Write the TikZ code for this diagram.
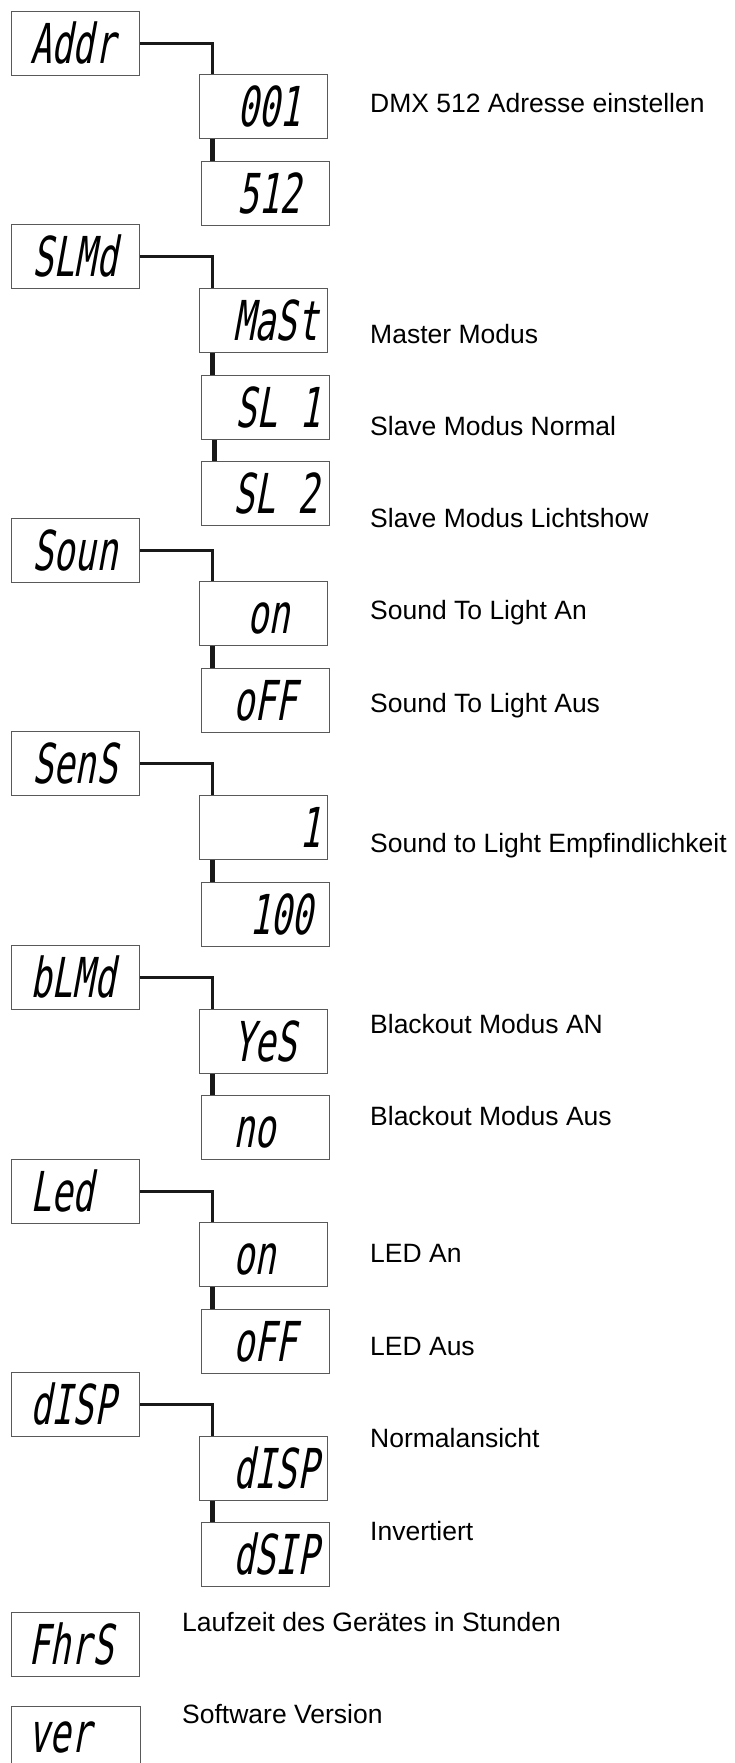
\documentclass[tikz,border=0pt]{standalone}
\usepackage{fontspec}
\setmainfont{Liberation Sans}
\newfontfamily\lcdfont[FakeStretch=0.64,FakeSlant=0.18]{DejaVu Sans Mono}
\usetikzlibrary{calc}
\tikzset{
  boxline/.style={draw=black!65, line width=1pt},
  box/.style={boxline, rectangle, anchor=north west,
    minimum width=128pt, minimum height=64pt, inner sep=0pt,
    text height=40pt, text depth=0pt},
  conn/.style={draw=black!90, line width=3pt},
  subconn/.style={draw=black!90, line width=4.5pt},
  lbl/.style={anchor=base west, inner sep=0pt, font=\fontsize{26.5}{30}\selectfont}
}
\newcommand\lcd[2]{\makebox[128pt][l]{\hspace*{#1pt}\fontsize{55}{60}\lcdfont #2}}
\begin{document}
\begin{tikzpicture}[x=1pt,y=-1pt]
\useasboundingbox (0,0) rectangle (734,1763);
\fill[white] (0,0) rectangle (734,1763);
% Addr
\node[box] (addr) at (11,11) {\lcd{19}{Addr}};
\node[box] (a1) at (199,74) {\lcd{38}{001}};
\node[box] (a2) at (201,161) {\lcd{36}{512}};
% SLMd
\node[box] (slmd) at (11,224) {\lcd{21}{SLMd}};
\node[box] (m1) at (199,288) {\lcd{34}{MaSt}};
\node[box] (m2) at (201,375) {\lcd{34}{SL 1}};
\node[box] (m3) at (201,461) {\lcd{32}{SL 2}};
% Soun
\node[box] (soun) at (11,518) {\lcd{21}{Soun}};
\node[box] (s1) at (199,581) {\lcd{48}{on}};
\node[box] (s2) at (201,668) {\lcd{32}{oFF}};
% SenS
\node[box] (sens) at (11,731) {\lcd{21}{SenS}};
\node[box] (e1) at (199,795) {\lcd{100}{1}};
\node[box] (e2) at (201,882) {\lcd{48}{100}};
% bLMd
\node[box] (blmd) at (11,945) {\lcd{19}{bLMd}};
\node[box] (b1) at (199,1009) {\lcd{34}{YeS}};
\node[box] (b2) at (201,1095) {\lcd{32}{no}};
% Led
\node[box] (led) at (11,1159) {\lcd{19}{Led}};
\node[box] (l1) at (199,1222) {\lcd{34}{on}};
\node[box] (l2) at (201,1309) {\lcd{32}{oFF}};
% dISP
\node[box] (disp) at (11,1372) {\lcd{19}{dISP}};
\node[box] (d1) at (199,1436) {\lcd{34}{dISP}};
\node[box] (d2) at (201,1522) {\lcd{32}{dSIP}};
% FhrS, ver (ver box runs off the bottom edge)
\node[box] (fhrs) at (11,1612) {\lcd{17}{FhrS}};
\node[box, draw=none, minimum height=56pt, text height=36pt] (ver) at (11,1706) {\lcd{17}{ver}};
\draw[boxline] (ver.north west) -- (ver.north east) -- ++(0,20) (ver.north west) -- ++(0,70);
\draw[boxline] (ver.north east) -- ++(0,70);

% connectors
\foreach \m/\a in {addr/a1, slmd/m1, soun/s1, sens/e1, blmd/b1, led/l1, disp/d1}
  \draw[conn] (\m.east) -| ([xshift=13pt]\a.north west);
\foreach \a/\b in {a1/a2, m1/m2, m2/m3, s1/s2, e1/e2, b1/b2, l1/l2, d1/d2}
  \draw[subconn] ([xshift=13.5pt]\a.south west) -- ([xshift=13.5pt]\a.south west |- \b.north);

% labels
\node[lbl] (t1) at (370,113) {DMX 512 Adresse einstellen};
\node[lbl] (t2) at (370,343) {Master Modus};
\node[lbl] (t3) at (370,435) {Slave Modus Normal};
\node[lbl] (t4) at (370,527) {Slave Modus Lichtshow};
\node[lbl] (t5) at (370,619) {Sound To Light An};
\node[lbl] (t6) at (370,712) {Sound To Light Aus};
\node[lbl] (t7) at (370,852) {Sound to Light Empfindlichkeit};
\node[lbl] (t8) at (370,1033) {Blackout Modus AN};
\node[lbl] (t9) at (370,1125) {Blackout Modus Aus};
\node[lbl] (t10) at (370,1262) {LED An};
\node[lbl] (t11) at (370,1355) {LED Aus};
\node[lbl] (t12) at (370,1447) {Normalansicht};
\node[lbl] (t13) at (370,1540) {Invertiert};
\node[lbl] (t14) at (182,1631) {Laufzeit des Gerätes in Stunden};
\node[lbl] (t15) at (182,1723) {Software Version};
\end{tikzpicture}
\end{document}
